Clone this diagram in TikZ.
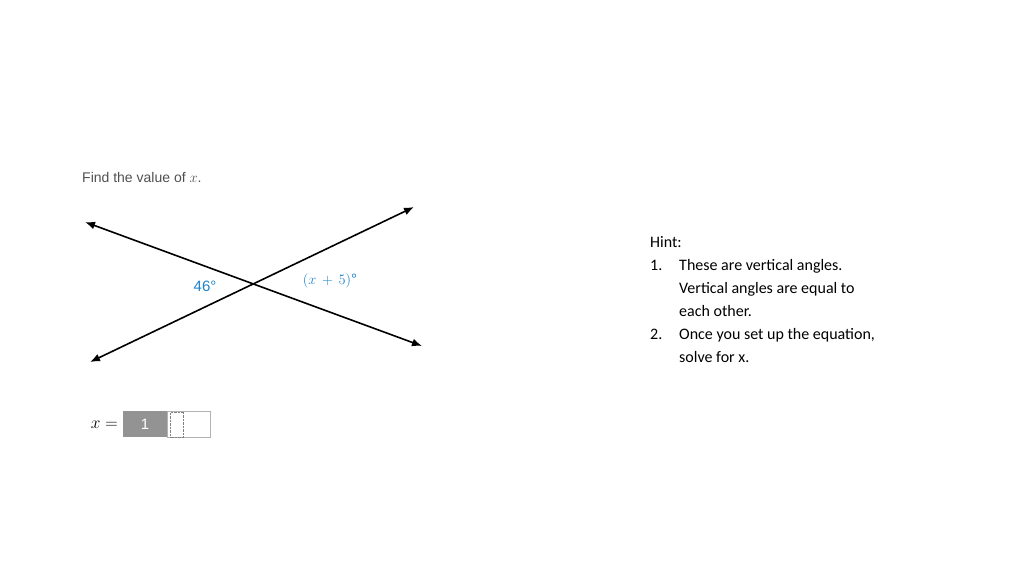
\documentclass[tikz,border=0pt]{standalone}
\usepackage{fontspec}
\setmainfont{Carlito}
\newfontfamily\arialf{Liberation Sans}
\usetikzlibrary{arrows.meta}
\definecolor{lblue}{RGB}{30,130,200}
\definecolor{tgray}{RGB}{80,80,80}
\begin{document}
\begin{tikzpicture}[x=1pt,y=-1pt,
  ray/.style={line width=1.6pt,{Latex[length=10pt,width=8pt]}-{Latex[length=10pt,width=8pt]}},
  lbl/.style={text=lblue,font=\arialf\fontsize{15}{18}\selectfont},
  hint/.style={anchor=base west,font=\fontsize{16}{19}\selectfont,inner sep=0}]
\useasboundingbox (0,0) rectangle (1024,576);
\node[anchor=base west,inner sep=0,text=tgray,font=\arialf\fontsize{14}{17}\selectfont] (q) at (82,182) {Find the value of $x$.};
\coordinate (a1) at (85,222); \coordinate (a2) at (422,346);
\coordinate (b1) at (90,362); \coordinate (b2) at (414,207);
\draw[ray] (a1) -- (a2);
\draw[ray] (b1) -- (b2);
\node[lbl] (l1) at (205,286) {46°};
\node[lbl] (l2) at (330,281) {$(x\,+\,5)$°};
\node[anchor=east,inner sep=0,font=\fontsize{16}{19}\selectfont] (xe) at (118,425) {$x=$};
\node[fill=gray!85,text=white,minimum width=44pt,minimum height=26pt,inner sep=0,font=\arialf\fontsize{15}{18}\selectfont] (g) at (145,424) {1};
\node[draw=gray!60,minimum width=43pt,minimum height=26pt,inner sep=0] (w) at (188.5,424) {};
\node[draw=gray,densely dotted,minimum width=13pt,minimum height=25pt,inner sep=0] (c) at (177,424.5) {};
\node[hint] (h0) at (650,247) {Hint:};
\node[hint] (h1) at (650,270) {1.};
\node[hint] (h1a) at (679,270) {These are vertical angles.};
\node[hint] (h1b) at (679,293) {Vertical angles are equal to};
\node[hint] (h1c) at (679,316) {each other.};
\node[hint] (h2) at (650,339) {2.};
\node[hint] (h2a) at (679,339) {Once you set up the equation,};
\node[hint] (h2b) at (679,362) {solve for x.};
\end{tikzpicture}
\end{document}
